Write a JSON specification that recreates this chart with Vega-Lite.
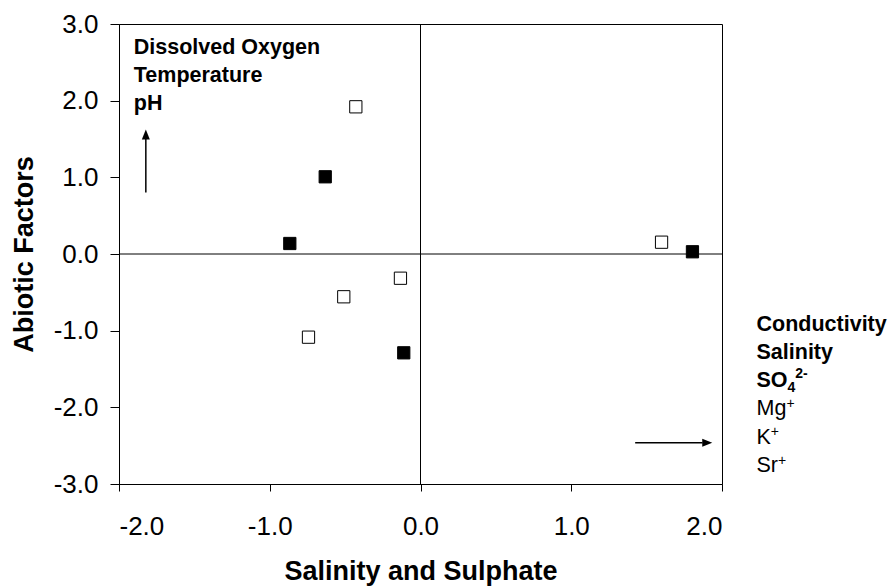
{
  "$schema": "https://vega.github.io/schema/vega-lite/v6.json",
  "width": 603,
  "height": 460,
  "autosize": {"type": "none"},
  "padding": {"left": 119, "top": 24, "right": 168, "bottom": 102},
  "background": "white",
  "config": {
    "view": {"stroke": "black", "strokeWidth": 1},
    "font": "Liberation Sans",
    "axis": {
      "grid": false,
      "domainColor": "black",
      "tickColor": "black",
      "labelColor": "black",
      "titleColor": "black",
      "labelFont": "Liberation Sans",
      "titleFont": "Liberation Sans",
      "labelFontSize": 26,
      "titleFontSize": 27,
      "titleFontWeight": "bold"
    }
  },
  "datasets": {
    "origin": [{"x": 0, "y": 0}],
    "points": [
      {"x": -0.429, "y": 1.92, "series": "open"},
      {"x": -0.632, "y": 1.007, "series": "filled"},
      {"x": -0.867, "y": 0.137, "series": "filled"},
      {"x": -0.133, "y": -0.316, "series": "open"},
      {"x": -0.509, "y": -0.558, "series": "open"},
      {"x": -0.743, "y": -1.085, "series": "open"},
      {"x": -0.111, "y": -1.289, "series": "filled"},
      {"x": 1.599, "y": 0.154, "series": "open"},
      {"x": 1.804, "y": 0.029, "series": "filled"}
    ],
    "boldLabels": [
      {"x": -1.902, "y": 2.611, "label": "Dissolved Oxygen"},
      {"x": -1.902, "y": 2.246, "label": "Temperature"},
      {"x": -1.902, "y": 1.881, "label": "pH"},
      {"x": 2.229, "y": -0.998, "label": "Conductivity"},
      {"x": 2.229, "y": -1.367, "label": "Salinity"},
      {"x": 2.229, "y": -1.737, "label": "SO"}
    ],
    "plainLabels": [
      {"x": 2.229, "y": -2.106, "label": "Mg"},
      {"x": 2.229, "y": -2.476, "label": "K"},
      {"x": 2.229, "y": -2.845, "label": "Sr"}
    ],
    "smallBold": [
      {"x": 2.435, "y": -1.803, "label": "4"},
      {"x": 2.486, "y": -1.620, "label": "2-"}
    ],
    "smallPlain": [
      {"x": 2.428, "y": -2.01, "label": "+"},
      {"x": 2.324, "y": -2.38, "label": "+"},
      {"x": 2.372, "y": -2.75, "label": "+"}
    ],
    "vArrow": [{"x": -1.822, "y": 0.802, "y2": 1.507, "hy": 1.559}],
    "hArrow": [{"x": 1.424, "x2": 1.871, "y": -2.463, "hx": 1.902}]
  },
  "encoding": {
    "x": {
      "type": "quantitative",
      "scale": {"domain": [-2, 2], "nice": false, "zero": false},
      "axis": {
        "title": "Salinity and Sulphate",
        "values": [-2, -1, 0, 1, 2],
        "labelExpr": "replace(format(datum.value, '.1f'), '−', '-')",
        "tickSize": 7,
        "labelPadding": 22,
        "titleBaseline": "alphabetic",
        "titleY": 95.5
      }
    },
    "y": {
      "type": "quantitative",
      "scale": {"domain": [-3, 3], "nice": false, "zero": false},
      "axis": {
        "title": "Abiotic Factors",
        "values": [-3, -2, -1, 0, 1, 2, 3],
        "labelExpr": "replace(format(datum.value, '.1f'), '−', '-')",
        "tickSize": 9,
        "labelPadding": 12,
        "titleAngle": 270,
        "titleBaseline": "alphabetic",
        "titleX": -86.5,
        "titleY": 230,
        "titleAlign": "center"
      }
    }
  },
  "layer": [
    {
      "data": {"name": "origin"},
      "mark": {"type": "rule", "color": "black", "strokeWidth": 1},
      "encoding": {"x": null, "y": {"field": "y", "type": "quantitative"}}
    },
    {
      "data": {"name": "origin"},
      "mark": {"type": "rule", "color": "black", "strokeWidth": 1},
      "encoding": {"y": null, "x": {"field": "x", "type": "quantitative"}}
    },
    {
      "data": {"name": "points"},
      "mark": {"type": "point", "shape": "square", "size": 150, "stroke": "black", "strokeWidth": 1, "opacity": 1, "filled": false},
      "encoding": {
        "x": {"field": "x", "type": "quantitative"},
        "y": {"field": "y", "type": "quantitative"},
        "fill": {
          "field": "series",
          "type": "nominal",
          "scale": {"domain": ["filled", "open"], "range": ["black", "white"]},
          "legend": null
        },
        "fillOpacity": {"value": 1}
      }
    },
    {
      "data": {"name": "vArrow"},
      "mark": {"type": "rule", "color": "black", "strokeWidth": 1.5},
      "encoding": {
        "x": {"field": "x", "type": "quantitative"},
        "y": {"field": "y", "type": "quantitative"},
        "y2": {"field": "y2"}
      }
    },
    {
      "data": {"name": "vArrow"},
      "mark": {"type": "point", "shape": "M0,-1L-0.8,1L0.8,1Z", "size": 100, "filled": true, "color": "black", "opacity": 1},
      "encoding": {
        "x": {"field": "x", "type": "quantitative"},
        "y": {"field": "hy", "type": "quantitative"}
      }
    },
    {
      "data": {"name": "hArrow"},
      "mark": {"type": "rule", "color": "black", "strokeWidth": 1.5},
      "encoding": {
        "x": {"field": "x", "type": "quantitative"},
        "x2": {"field": "x2"},
        "y": {"field": "y", "type": "quantitative"}
      }
    },
    {
      "data": {"name": "hArrow"},
      "mark": {"type": "point", "shape": "M1,0L-1,-0.8L-1,0.8Z", "size": 100, "filled": true, "color": "black", "opacity": 1},
      "encoding": {
        "x": {"field": "hx", "type": "quantitative"},
        "y": {"field": "y", "type": "quantitative"}
      }
    },
    {
      "data": {"name": "boldLabels"},
      "mark": {"type": "text", "align": "left", "baseline": "alphabetic", "fontSize": 21.5, "fontWeight": "bold", "font": "Liberation Sans", "color": "black", "clip": false},
      "encoding": {
        "x": {"field": "x", "type": "quantitative"},
        "y": {"field": "y", "type": "quantitative"},
        "text": {"field": "label"}
      }
    },
    {
      "data": {"name": "plainLabels"},
      "mark": {"type": "text", "align": "left", "baseline": "alphabetic", "fontSize": 21.5, "font": "Liberation Sans", "color": "black", "clip": false},
      "encoding": {
        "x": {"field": "x", "type": "quantitative"},
        "y": {"field": "y", "type": "quantitative"},
        "text": {"field": "label"}
      }
    },
    {
      "data": {"name": "smallBold"},
      "mark": {"type": "text", "align": "left", "baseline": "alphabetic", "fontSize": 14, "fontWeight": "bold", "font": "Liberation Sans", "color": "black", "clip": false},
      "encoding": {
        "x": {"field": "x", "type": "quantitative"},
        "y": {"field": "y", "type": "quantitative"},
        "text": {"field": "label"}
      }
    },
    {
      "data": {"name": "smallPlain"},
      "mark": {"type": "text", "align": "left", "baseline": "alphabetic", "fontSize": 14, "font": "Liberation Sans", "color": "black", "clip": false},
      "encoding": {
        "x": {"field": "x", "type": "quantitative"},
        "y": {"field": "y", "type": "quantitative"},
        "text": {"field": "label"}
      }
    }
  ]
}
